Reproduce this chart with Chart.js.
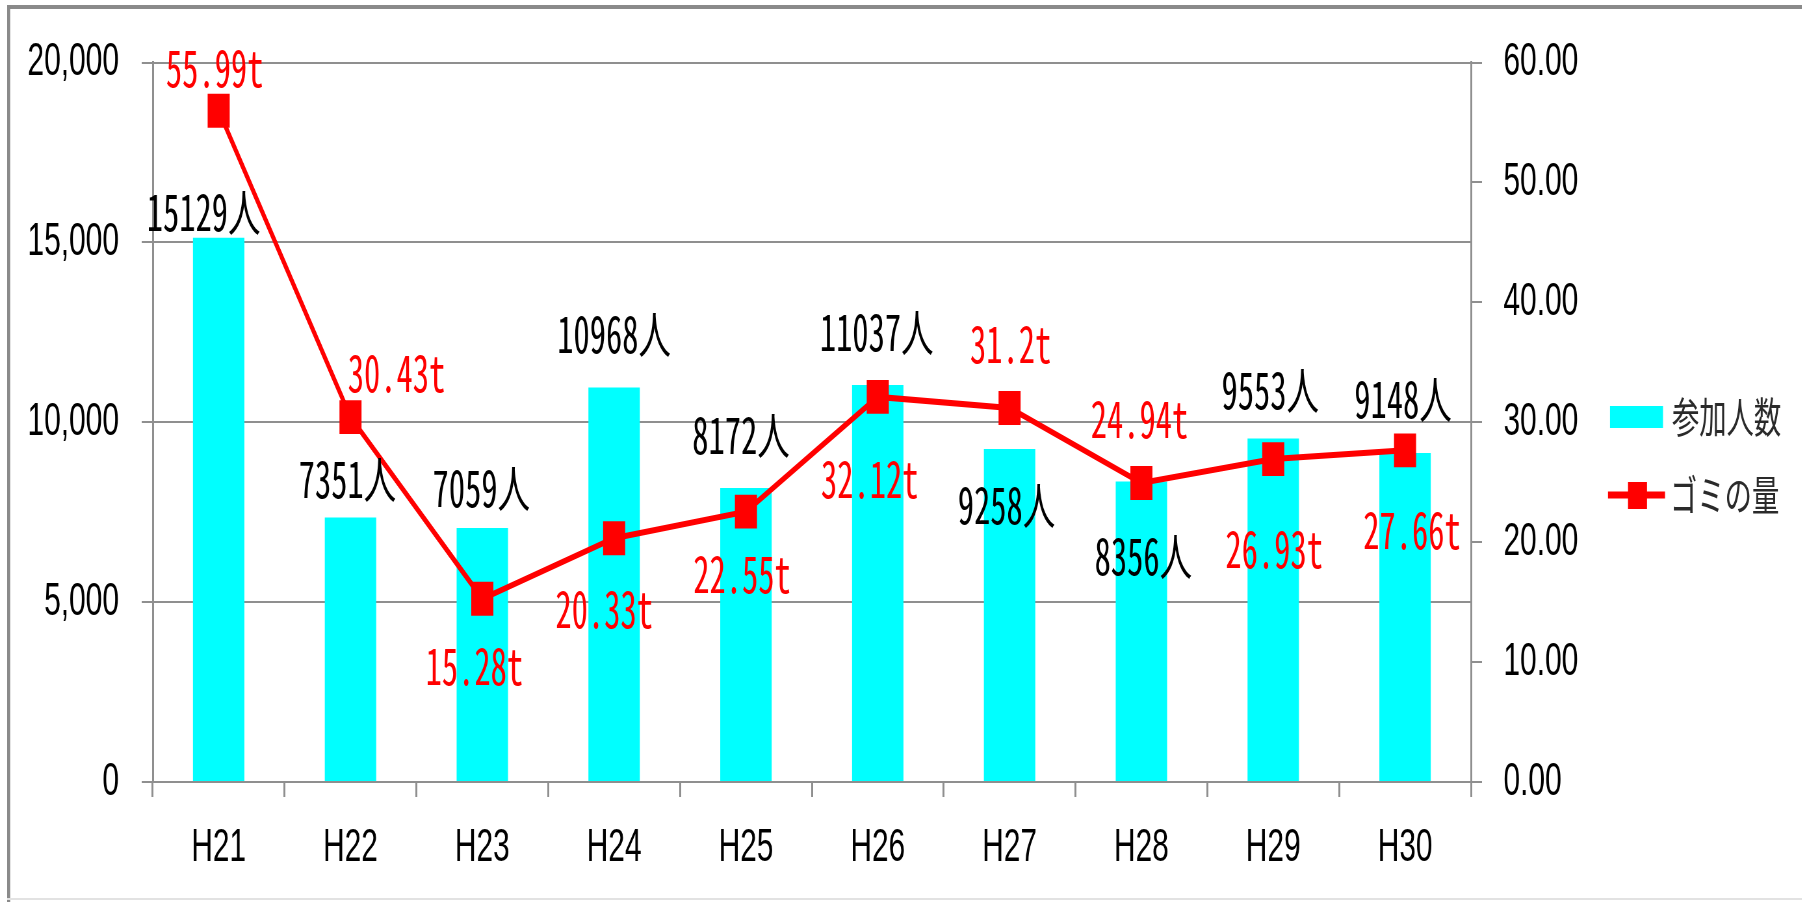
<!DOCTYPE html>
<html>
<head>
<meta charset="utf-8">
<script src="https://cdn.jsdelivr.net/npm/chart.js@4.4.1/dist/chart.umd.min.js"></script>
<style>
html, body { margin: 0; padding: 0; background: #fff; overflow: hidden; width: 1802px; height: 902px; }
#wrap { width: 2772px; height: 902px; transform: scaleX(0.65); transform-origin: 0 0; }
canvas { display: block; }
</style>
</head>
<body>
<div id="wrap"><canvas id="c" width="2772" height="902"></canvas></div>
<script>
// ---- data ----
const categories = ['H21', 'H22', 'H23', 'H24', 'H25', 'H26', 'H27', 'H28', 'H29', 'H30'];
const participants = [15129, 7351, 7059, 10968, 8172, 11037, 9258, 8356, 9553, 9148];
const garbageTons = [55.99, 30.43, 15.28, 20.33, 22.55, 32.12, 31.2, 24.94, 26.93, 27.66];
const seriesNames = ['参加人数', 'ゴミの量'];
const leftTickValues = [0, 5000, 10000, 15000, 20000];
const rightTickValues = [0, 10, 20, 30, 40, 50, 60];
const participantLabels = participants.map(v => v + '人');
const garbageLabels = garbageTons.map(v => v + 't');

// label placement relative to bar top / line point (page pixels)
const barLabelOffsets = [[-15, -26], [-3, -39], [-1, -40], [0, -53], [-5, -53], [-1, -53], [-3, 56], [2, 75], [-3, -48], [-2, -54]];
const lineLabelOffsets = [[-4, -43], [46, -44], [-8, 67], [-10, 71], [-4, 62], [-8, 82], [1, -64], [-2, -64], [1, 90], [7, 80]];

// ---- drawing ----
const SX = 0.65;            // horizontal squeeze of the whole picture
const W = 2772, H = 902;
const GRID = '#8f8f8f';
const CJK = '"Noto Sans CJK JP", "Noto Sans", sans-serif';
const LABEL_SIZE = 50;

function hasFont(name) {
  const c = document.createElement('canvas').getContext('2d');
  c.font = '50px serif';
  const a = c.measureText('0.0iiWW人').width;
  c.font = '50px "' + name + '", serif';
  const b = c.measureText('0.0iiWW人').width;
  return Math.abs(a - b) > 0.5;
}
const MONO_OK = hasFont('Noto Sans Mono CJK JP');
const LABEL_FONT = MONO_OK ? LABEL_SIZE + 'px "Noto Sans Mono CJK JP", ' + CJK : LABEL_SIZE + 'px ' + CJK;

function cellWidth(str) {
  let u = 0;
  for (const ch of str) u += ch.charCodeAt(0) > 255 ? 1 : 0.5;
  return u * LABEL_SIZE;
}

function drawLabel(c, str, x, y) {
  c.letterSpacing = '0px';
  const m = c.measureText(str).width;
  const want = cellWidth(str);
  const n = [...str].length;
  if (Math.abs(want - m) > 1 && 'letterSpacing' in c) {
    const sp = (want - m) / n;
    c.letterSpacing = sp + 'px';
    c.fillText(str, x + sp / 2, y);
    c.letterSpacing = '0px';
  } else {
    c.fillText(str, x, y);
  }
}

const framePlugin = {
  id: 'frame',
  beforeDraw(chart) {
    const c = chart.ctx;
    c.save();
    c.fillStyle = '#fff';
    c.fillRect(0, 0, W, H);
    c.fillStyle = '#8a8a8a';
    c.fillRect(11, 5, W - 11, 4);          // top border
    c.fillRect(11, 5, 4.6, H - 5);         // left border
    c.fillStyle = '#e2e2e2';
    c.fillRect(11, 898, W - 11, 2);        // faint bottom border
    c.restore();
  }
};

const labelPlugin = {
  id: 'valueLabels',
  afterDatasetsDraw(chart) {
    const c = chart.ctx;
    const lineMeta = chart.getDatasetMeta(0);
    const barMeta = chart.getDatasetMeta(1);
    c.save();
    c.font = LABEL_FONT;
    c.textAlign = 'center';
    c.textBaseline = 'middle';
    barMeta.data.forEach((el, i) => {
      const [dx, dy] = barLabelOffsets[i];
      c.fillStyle = '#000';
      drawLabel(c, participantLabels[i], el.x + dx / SX, el.y + dy);
    });
    lineMeta.data.forEach((el, i) => {
      const [dx, dy] = lineLabelOffsets[i];
      c.fillStyle = '#ff0000';
      drawLabel(c, garbageLabels[i], el.x + dx / SX, el.y + dy);
    });
    c.restore();
  }
};

const legendPlugin = {
  id: 'sideLegend',
  afterDraw(chart) {
    const c = chart.ctx;
    const ds = chart.data.datasets;
    c.save();
    // bar entry
    c.fillStyle = ds[1].backgroundColor;
    c.fillRect(1610 / SX, 406, 53 / SX, 22);
    // line entry
    c.strokeStyle = ds[0].borderColor;
    c.lineWidth = 7;
    c.beginPath();
    c.moveTo(1608 / SX, 495);
    c.lineTo(1665 / SX, 495);
    c.stroke();
    c.fillStyle = ds[0].borderColor;
    c.fillRect(1628 / SX, 482, 19 / SX, 27);
    c.font = '42px ' + CJK;
    c.textAlign = 'left';
    c.textBaseline = 'middle';
    c.fillStyle = '#2a2a2a';
    c.fillText(ds[1].label, 1672 / SX, 417);
    c.fillText(ds[0].label, 1670 / SX, 495);
    c.restore();
  }
};

Chart.defaults.font.family = 'Liberation Sans';
Chart.defaults.color = '#000';

new Chart(document.getElementById('c').getContext('2d'), {
  type: 'bar',
  data: {
    labels: categories,
    datasets: [
      {
        type: 'line',
        label: seriesNames[1],
        data: garbageTons,
        yAxisID: 'y1',
        borderColor: '#ff0000',
        backgroundColor: '#ff0000',
        borderWidth: 6,
        pointStyle: 'rect',
        pointRadius: 24,
        pointBorderWidth: 0,
        pointBackgroundColor: '#ff0000',
        tension: 0,
        fill: false,
        order: 0
      },
      {
        type: 'bar',
        label: seriesNames[0],
        data: participants,
        yAxisID: 'y',
        backgroundColor: '#00ffff',
        borderWidth: 0,
        barPercentage: 0.39,
        categoryPercentage: 1,
        order: 1
      }
    ]
  },
  options: {
    responsive: false,
    animation: false,
    devicePixelRatio: 1,
    layout: { padding: { top: 60, left: 0, right: 0, bottom: 0 } },
    plugins: { legend: { display: false }, tooltip: { enabled: false } },
    scales: {
      x: {
        offset: true,
        grid: { display: true, drawOnChartArea: false, drawTicks: true, tickLength: 15, color: GRID, lineWidth: 3, offset: true },
        border: { display: true, color: GRID, width: 2 },
        ticks: { font: { size: 46 }, color: '#000', padding: 24, maxRotation: 0, autoSkip: false },
        afterFit(s) { s.height = 120; }
      },
      y: {
        position: 'left',
        min: leftTickValues[0],
        max: leftTickValues[leftTickValues.length - 1],
        afterBuildTicks(s) { s.ticks = leftTickValues.map(v => ({ value: v })); },
        ticks: { font: { size: 46 }, color: '#000', padding: 35, callback: v => v.toLocaleString('en-US') },
        grid: { color: GRID, lineWidth: 2, tickLength: 17, drawTicks: true },
        border: { display: true, color: GRID, width: 3 },
        afterFit(s) { s.width = 235; }
      },
      y1: {
        position: 'right',
        min: rightTickValues[0],
        max: rightTickValues[rightTickValues.length - 1],
        afterBuildTicks(s) { s.ticks = rightTickValues.map(v => ({ value: v })); },
        ticks: { font: { size: 46 }, color: '#000', padding: 33, callback: v => Number(v).toFixed(2) },
        grid: { drawOnChartArea: false, color: GRID, lineWidth: 2, tickLength: 17, drawTicks: true },
        border: { display: true, color: GRID, width: 3 },
        afterFit(s) { s.width = W - 2263; }
      }
    }
  },
  plugins: [framePlugin, labelPlugin, legendPlugin]
});
</script>
</body>
</html>
